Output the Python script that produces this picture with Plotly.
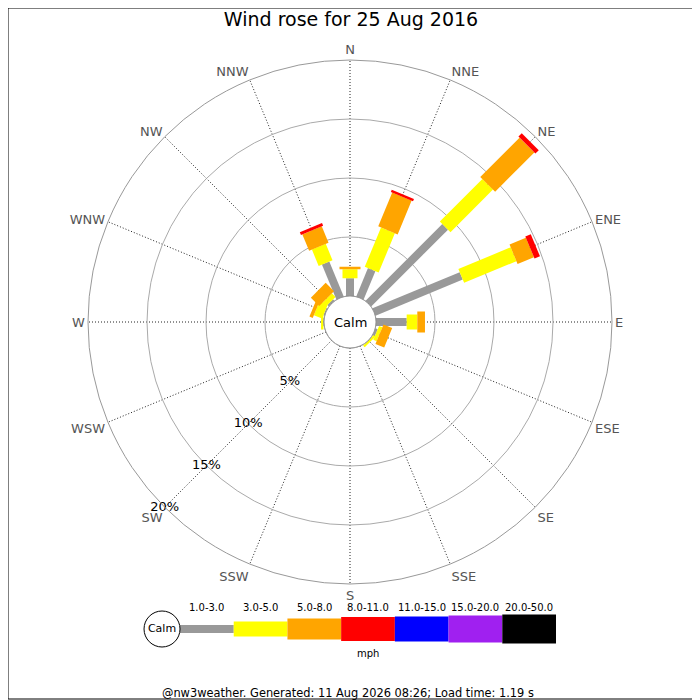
import numpy as np
import plotly.graph_objects as go

# wind directions (compass degrees, clockwise from N)
directions = ["N", "NNE", "NE", "ENE", "E", "ESE", "SE", "SSE",
              "S", "SSW", "SW", "WSW", "W", "WNW", "NW", "NNW"]
dir_angles = [0, 22.5, 45, 67.5, 90, 112.5, 135, 157.5,
              180, 202.5, 225, 247.5, 270, 292.5, 315, 337.5]

# speed bins (mph) and the % of time in each bin per direction
speed_bins = ["1.0-3.0", "3.0-5.0", "5.0-8.0", "8.0-11.0",
              "11.0-15.0", "15.0-20.0", "20.0-50.0"]
pct_1_3 = [1.5, 2.6, 9.2, 8.0, 2.6, 0.2, 0.0, 0, 0, 0, 0, 0, 0.05, 0.1, 0.17, 3.2]
pct_3_5 = [0.76, 3.6, 5.1, 4.8, 0.9, 0.3, 0.2, 0, 0, 0, 0, 0, 0.2, 0.75, 0.43, 1.5]
pct_5_8 = [0.22, 3.1, 4.7, 1.5, 0.65, 0.8, 0, 0, 0, 0, 0, 0, 0, 0.3, 1.0, 1.5]
pct_8_11 = [0, 0.2, 0.4, 0.5, 0, 0, 0, 0, 0, 0, 0, 0, 0, 0, 0, 0.25]
pct_11_15 = [0] * 16
pct_15_20 = [0] * 16
pct_20_50 = [0] * 16

radial_ticks = [5, 10, 15, 20]
radial_labels = ["5%", "10%", "15%", "20%"]

colors = ["#999999", "#ffff00", "#ffa500", "#ff0000", "#0000ff", "#a020f0", "#000000"]
widths = [8, 15, 21, 24, 25, 27, 29]

FONT = "DejaVu Sans"

# page body has an 8px margin, so place things relative to that
OFF = 8
def px_x(x):
    return (x - OFF) / 700
def px_y(y):
    return 1 - (y - OFF) / 700

bands = np.array([pct_1_3, pct_3_5, pct_5_8, pct_8_11, pct_11_15, pct_15_20, pct_20_50])
tops = np.cumsum(bands, axis=0)
bases = tops - bands

fig = go.Figure()

for i in range(len(speed_bins)):
    r, th = [], []
    for j, ang in enumerate(dir_angles):
        if bands[i, j] > 0:
            r += [bases[i, j], tops[i, j], None]
            th += [ang, ang, None]
    if not r:
        continue
    fig.add_trace(go.Scatterpolar(r=r, theta=th, mode="lines",
                                  line=dict(color=colors[i], width=widths[i]),
                                  connectgaps=False, hoverinfo="skip",
                                  showlegend=False))

# calm circle edge
fig.add_trace(go.Scatterpolar(r=[0] * 181, theta=list(np.arange(0, 362, 2)),
                              mode="lines", line=dict(color="#888888", width=1),
                              hoverinfo="skip", showlegend=False))

# radial % labels along SW
fig.add_trace(go.Scatterpolar(r=radial_ticks, theta=[225] * len(radial_ticks),
                              mode="text", text=radial_labels,
                              textfont=dict(family=FONT, size=13, color="black"),
                              hoverinfo="skip", showlegend=False))

# legend strip
for i in range(len(speed_bins)):
    fig.add_trace(go.Scatter(x=[i, i + 1], y=[0, 0], mode="lines",
                             line=dict(color=colors[i], width=widths[i]),
                             xaxis="x", yaxis="y", hoverinfo="skip",
                             showlegend=False))
fig.add_trace(go.Scatter(x=[-0.335], y=[0], mode="markers+text", text=["Calm"],
                         textposition="middle center",
                         textfont=dict(family=FONT, size=11, color="black"),
                         marker=dict(size=36, color="white",
                                     line=dict(color="black", width=1)),
                         xaxis="x", yaxis="y", hoverinfo="skip", showlegend=False))

for i, lab in enumerate(speed_bins):
    fig.add_annotation(x=i + 0.5, y=px_y(607), xref="x", yref="paper",
                       xanchor="center", yanchor="middle",
                       text=lab, showarrow=False,
                       font=dict(family=FONT, size=10, color="black"))

fig.add_annotation(x=3.5, y=px_y(653), xref="x", yref="paper", text="mph",
                   xanchor="center", yanchor="middle",
                   showarrow=False, font=dict(family=FONT, size=10, color="black"))
fig.add_annotation(x=px_x(350), y=px_y(322), xref="paper", yref="paper", text="Calm",
                   xanchor="center", yanchor="middle",
                   showarrow=False, font=dict(family=FONT, size=13, color="black"))
fig.add_annotation(x=px_x(348), y=px_y(693), xref="paper", yref="paper",
                   xanchor="center", yanchor="middle",
                   text="@nw3weather. Generated: 11 Aug 2026 08:26; Load time: 1.19 s",
                   showarrow=False, font=dict(family=FONT, size=11.4, color="black"))

fig.update_layout(
    width=700, height=700,
    margin=dict(l=0, r=0, t=0, b=0),
    paper_bgcolor="white", plot_bgcolor="white",
    title=dict(text="Wind rose for 25 Aug 2016", x=px_x(351), xanchor="center",
               y=px_y(19), yanchor="middle",
               font=dict(family=FONT, size=19, color="black")),
    polar=dict(
        domain=dict(x=[px_x(88), px_x(612)], y=[px_y(584), px_y(60)]),
        hole=26 / 262,
        bgcolor="white",
        angularaxis=dict(rotation=90, direction="clockwise",
                         tickmode="array", tickvals=dir_angles, ticktext=directions,
                         tickfont=dict(family=FONT, size=13, color="#555555"),
                         ticks="", showline=True, linecolor="#999999", linewidth=1,
                         gridcolor="#222222", gridwidth=1, griddash="1px,2px"),
        radialaxis=dict(range=[0, 20], tickvals=radial_ticks, showticklabels=False,
                        ticks="", showline=False, gridcolor="#aaaaaa", gridwidth=1,
                        angle=225),
    ),
    xaxis=dict(domain=[px_x(126.3), px_x(556)], range=[-1, 7], visible=False,
               fixedrange=True),
    yaxis=dict(domain=[px_y(649), px_y(609)], range=[-1, 1], visible=False,
               fixedrange=True),
    shapes=[dict(type="rect", xref="paper", yref="paper",
                 x0=0, y0=px_y(699), x1=px_x(699), y1=1,
                 line=dict(color="black", width=1))],
)

fig.write_html("out.html")
